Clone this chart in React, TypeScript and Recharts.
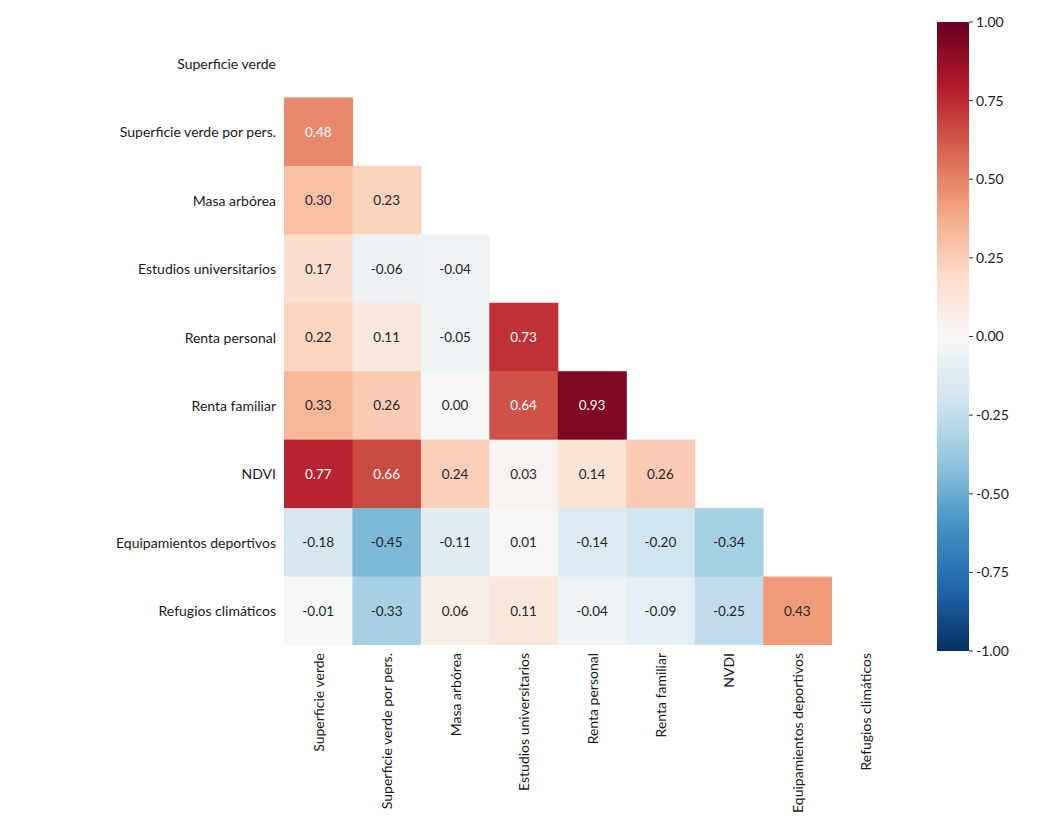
import React from "react";
import {
  ScatterChart, Scatter, XAxis, YAxis, ComposedChart, Line, ReferenceArea
} from "recharts";

// variable names (row labels and column labels differ in one spelling)
const rowLabels = [
  "Superficie verde", "Superficie verde por pers.", "Masa arbórea",
  "Estudios universitarios", "Renta personal", "Renta familiar", "NDVI",
  "Equipamientos deportivos", "Refugios climáticos"
];
const colLabels = [
  "Superficie verde", "Superficie verde por pers.", "Masa arbórea",
  "Estudios universitarios", "Renta personal", "Renta familiar", "NVDI",
  "Equipamientos deportivos", "Refugios climáticos"
];

// lower triangle of the correlation matrix, row by row (row 0 is fully masked)
const corrRows: number[][] = [
  [],
  [0.48],
  [0.30, 0.23],
  [0.17, -0.06, -0.04],
  [0.22, 0.11, -0.05, 0.73],
  [0.33, 0.26, 0.00, 0.64, 0.93],
  [0.77, 0.66, 0.24, 0.03, 0.14, 0.26],
  [-0.18, -0.45, -0.11, 0.01, -0.14, -0.20, -0.34],
  [-0.01, -0.33, 0.06, 0.11, -0.04, -0.09, -0.25, 0.43]
];

const colorbarTicks = [1, 0.75, 0.5, 0.25, 0, -0.25, -0.5, -0.75, -1];

// RdBu_r, from +1 down to -1
const RDBU_R = [
  "#67001f", "#b2182b", "#d6604d", "#f4a582", "#fddbc7", "#f7f7f7",
  "#d1e5f0", "#92c5de", "#4393c3", "#2166ac", "#053061"
];

const FONT = "Lato, 'Open Sans', sans-serif";
const W = 1047;
const H = 821;
const PLOT_LEFT = 284;
const PLOT_TOP = 29;
const PLOT_RIGHT = 900;
const PLOT_BOTTOM = 645;
const CELL = (PLOT_RIGHT - PLOT_LEFT) / colLabels.length;

const hexToRgb = (h: string) => [1, 3, 5].map((i) => parseInt(h.slice(i, i + 2), 16));

function colorFor(v: number): string {
  const t = ((1 - v) / 2) * (RDBU_R.length - 1);
  const i = Math.min(Math.floor(t), RDBU_R.length - 2);
  const f = t - i;
  const a = hexToRgb(RDBU_R[i]);
  const b = hexToRgb(RDBU_R[i + 1]);
  const c = a.map((x, k) => Math.round(x + (b[k] - x) * f));
  return `rgb(${c[0]},${c[1]},${c[2]})`;
}

function luminance(rgb: string): number {
  const [r, g, b] = rgb.match(/\d+/g)!.map((n) => {
    const c = Number(n) / 255;
    return c <= 0.03928 ? c / 12.92 : Math.pow((c + 0.055) / 1.055, 2.4);
  });
  return 0.2126 * r + 0.7152 * g + 0.0722 * b;
}

const cells = corrRows.flatMap((row, y) => row.map((v, x) => ({ x, y, v })));

const HeatCell = (props: any) => {
  const { cx, cy, payload } = props;
  const fill = colorFor(payload.v);
  const txt = luminance(fill) > 0.408 ? "#262626" : "#ffffff";
  return (
    <g>
      <rect x={cx - CELL / 2} y={cy - CELL / 2} width={CELL + 0.6} height={CELL + 0.6} fill={fill} />
      <text x={cx} y={cy} textAnchor="middle" dominantBaseline="central"
        fontSize={13.5} fontFamily={FONT} fill={txt}>
        {payload.v.toFixed(2)}
      </text>
    </g>
  );
};

const RowTick = (props: any) => {
  const { x, y, payload } = props;
  return (
    <text x={x} y={y} textAnchor="end" dominantBaseline="central"
      fontSize={14} fontFamily={FONT} fill="#1a1a1a">
      {rowLabels[payload.value]}
    </text>
  );
};

const ColTick = (props: any) => {
  const { x, y, payload } = props;
  return (
    <text x={x} y={y} transform={`rotate(-90, ${x}, ${y})`} textAnchor="end"
      dominantBaseline="central" fontSize={14} fontFamily={FONT} fill="#1a1a1a">
      {colLabels[payload.value]}
    </text>
  );
};

const idx = colLabels.map((_, i) => i);

function Colorbar() {
  const data = [{ x: 0, v: 0 }, { x: 1, v: 0 }];
  return (
    <ComposedChart width={117} height={H} data={data}
      margin={{ top: 22, bottom: 170, left: 7, right: 0 }}>
      <defs>
        <linearGradient id="cbarGrad" x1="0" y1="0" x2="0" y2="1">
          {RDBU_R.map((c, i) => (
            <stop key={c} offset={`${(i / (RDBU_R.length - 1)) * 100}%`} stopColor={c} />
          ))}
        </linearGradient>
      </defs>
      <XAxis type="number" dataKey="x" domain={[0, 1]} hide />
      <YAxis type="number" orientation="right" domain={[-1, 1]} ticks={colorbarTicks}
        width={78} axisLine={false} tickSize={4} tickMargin={3} interval={0}
        tickLine={{ stroke: "#333" }}
        tick={{ fontSize: 14, fontFamily: FONT, fill: "#1a1a1a", textAnchor: "start" }}
        tickFormatter={(v: number) => v.toFixed(2)} />
      <ReferenceArea x1={0} x2={1} y1={-1} y2={1} fill="url(#cbarGrad)" fillOpacity={1} />
      <Line dataKey="v" stroke="none" dot={false} isAnimationActive={false} />
    </ComposedChart>
  );
}

export default function App() {
  return (
    <div style={{ position: "absolute", left: 0, top: 0, width: W, height: H, background: "#fff" }}>
      <ScatterChart width={W} height={H}
        margin={{ top: PLOT_TOP, left: 0, right: W - PLOT_RIGHT, bottom: 0 }}>
        <XAxis type="number" dataKey="x" domain={[-0.5, 8.5]} ticks={idx} interval={0}
          height={H - PLOT_BOTTOM} axisLine={false} tickLine={false} tickSize={0} tickMargin={8}
          allowDataOverflow tick={<ColTick />} />
        <YAxis type="number" dataKey="y" domain={[-0.5, 8.5]} ticks={idx} interval={0} reversed
          width={PLOT_LEFT} axisLine={false} tickLine={false} tickSize={0} tickMargin={8}
          allowDataOverflow tick={<RowTick />} />
        <Scatter data={cells} shape={<HeatCell />} isAnimationActive={false} />
      </ScatterChart>
      <div style={{ position: "absolute", left: 930, top: 0 }}>
        <Colorbar />
      </div>
    </div>
  );
}
